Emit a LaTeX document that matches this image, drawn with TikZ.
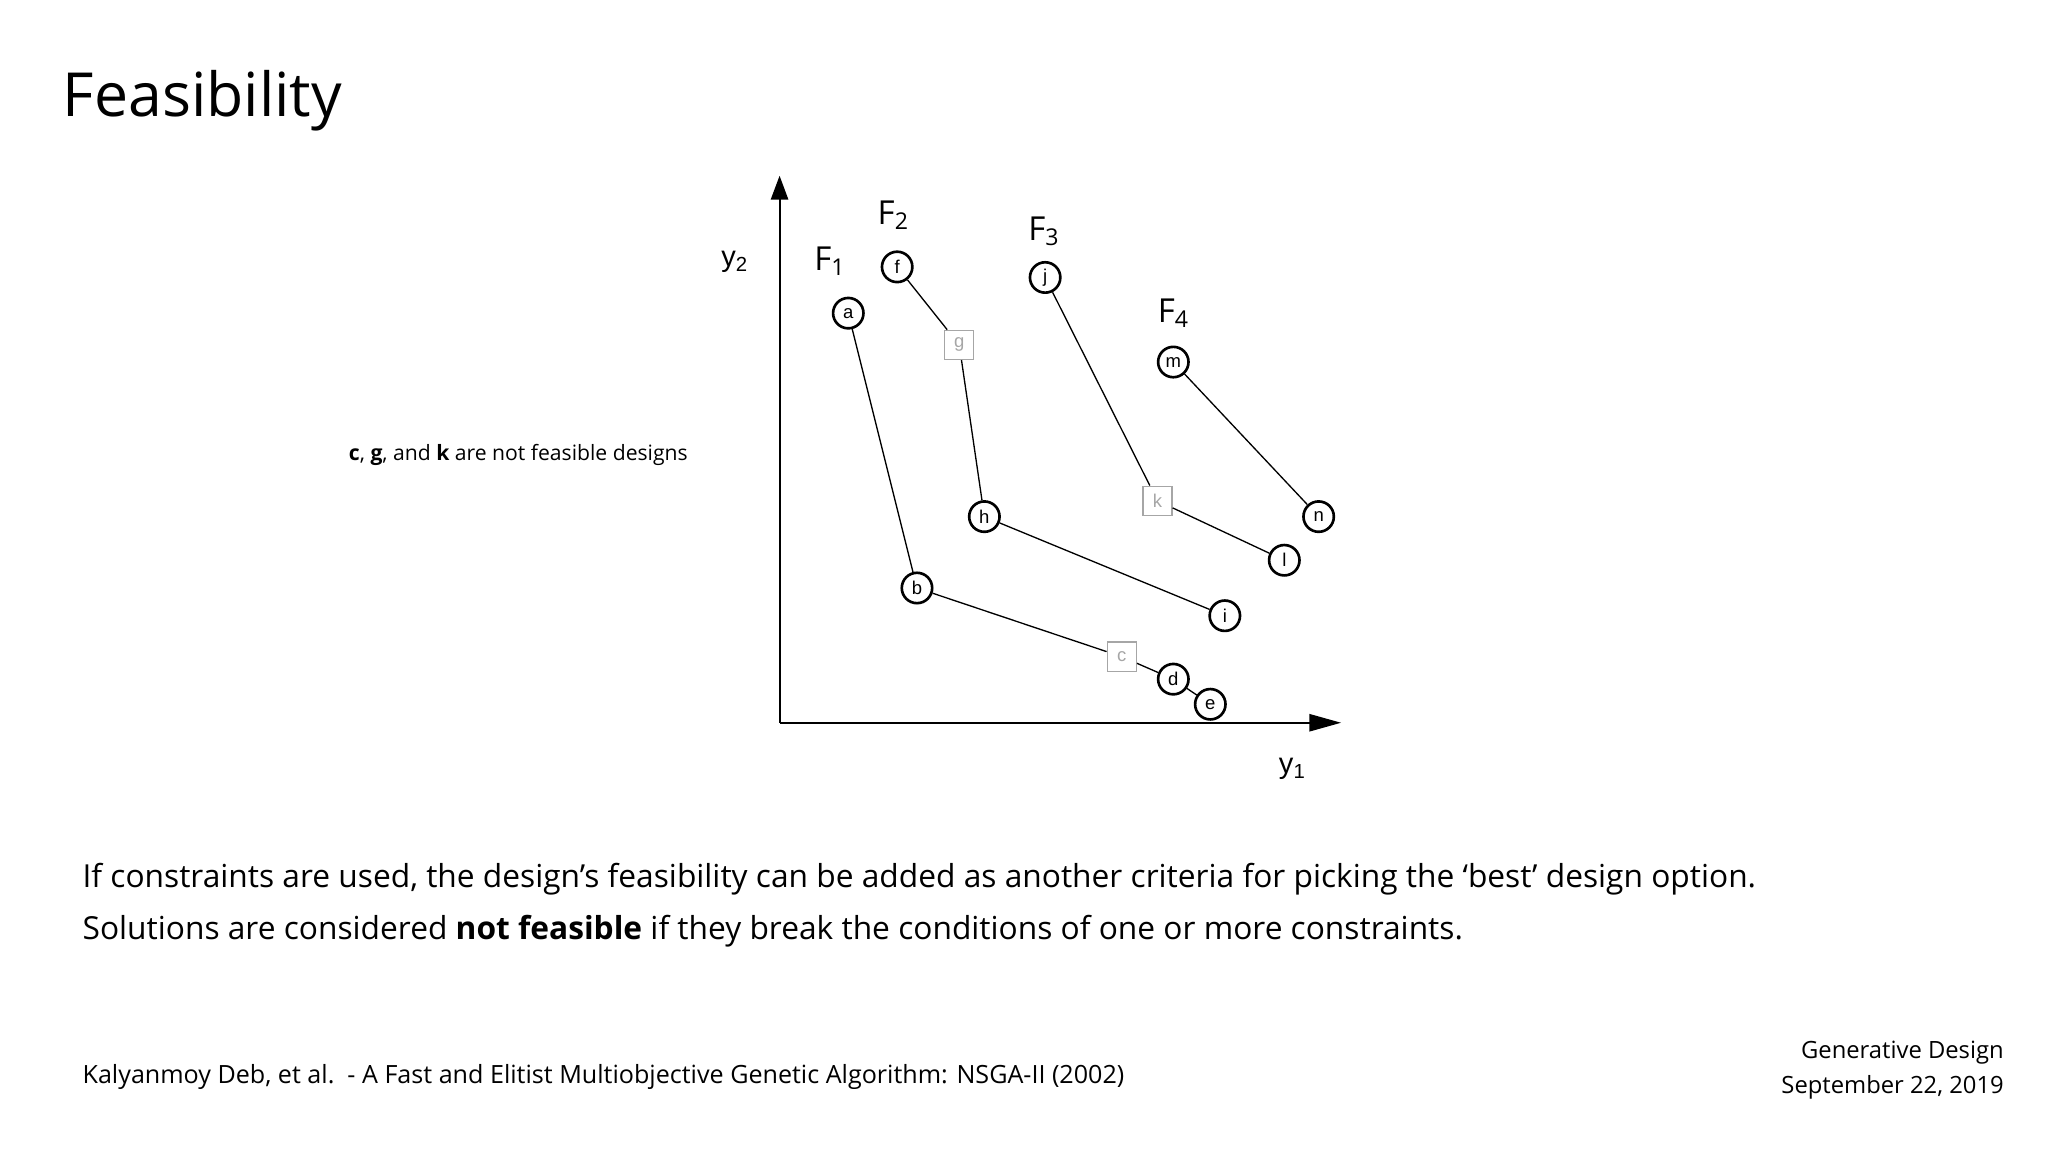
\documentclass[tikz,border=0pt]{standalone}
\usepackage{fontspec}
\setmainfont{Open Sans}
\newfontfamily\ptfont{Liberation Sans}
\usetikzlibrary{arrows.meta}
\begin{document}
\begin{tikzpicture}[x=1pt,y=-1pt,
  pt/.style={circle,draw,line width=2pt,minimum size=23pt,inner sep=0pt,font=\ptfont\fontsize{14}{14}\selectfont},
  bad/.style={rectangle,draw=gray!70,line width=1pt,minimum size=22pt,inner sep=0pt,text=gray!70,font=\ptfont\fontsize{14}{14}\selectfont},
  fl/.style={font=\fontsize{25}{25}\selectfont},
  ln/.style={line width=1pt}]
\useasboundingbox (0,0) rectangle (1550,872);
\node[anchor=west,font=\fontsize{46}{46}\selectfont] (title) at (44,76) {Feasibility};
% axes
\coordinate (o) at (590,547);
\coordinate (ytop) at (590,133);
\coordinate (xend) at (1015,547);
\draw[line width=1.5pt,-{Triangle[length=18pt,width=13pt]}] (o) -- (ytop);
\draw[line width=1.5pt,-{Triangle[length=24pt,width=13pt]}] (o) -- (xend);
\node[font=\ptfont\fontsize{22}{22}\selectfont] (y2) at (556,198) {y\textsubscript{2}};
\node[font=\ptfont\fontsize{22}{22}\selectfont] (y1) at (978,582) {y\textsubscript{1}};
\node[fl] (F1) at (628,198) {F\textsubscript{1}};
\node[fl] (F2) at (676,163) {F\textsubscript{2}};
\node[fl] (F3) at (790,175) {F\textsubscript{3}};
\node[fl] (F4) at (888,237) {F\textsubscript{4}};
% points
\node[pt] (a) at (642,237) {a};
\node[pt] (b) at (694,445) {b};
\node[bad] (c) at (849,497) {c};
\node[pt] (d) at (888,514) {d};
\node[pt] (e) at (916,533) {e};
\node[pt] (f) at (679,202) {f};
\node[bad] (g) at (726,261) {g};
\node[pt] (h) at (745,391) {h};
\node[pt] (i) at (927,466) {i};
\node[pt] (j) at (791,210) {j};
\node[bad] (k) at (876,379) {k};
\node[pt] (l) at (972,424) {l};
\node[pt] (m) at (888,274) {m};
\node[pt] (n) at (998,391) {n};
\draw[ln] (a)--(b) (b)--(c) (c)--(d) (d)--(e);
\draw[ln] (f)--(g) (g)--(h) (h)--(i);
\draw[ln] (j)--(k) (k)--(l);
\draw[ln] (m)--(n);
\node[anchor=east,font=\fontsize{16}{16}\selectfont] (note) at (524,344) {\textbf{c}, \textbf{g}, and \textbf{k} are not feasible designs};
\node[anchor=west,align=left,font=\fontsize{24}{39}\selectfont] (body) at (59,685) {If constraints are used, the design’s feasibility can be added as another criteria for picking the ‘best’ design option.\\Solutions are considered \textbf{not feasible} if they break the conditions of one or more constraints.};
\node[anchor=west,font=\fontsize{19}{19}\selectfont] (ref) at (59,815) {Kalyanmoy Deb, et al.\ \ - A Fast and Elitist Multiobjective Genetic Algorithm: NSGA-II (2002)};
\node[anchor=east,align=right,font=\fontsize{18}{26}\selectfont] (date) at (1520,810) {Generative Design\\September 22, 2019};
\end{tikzpicture}
\end{document}
